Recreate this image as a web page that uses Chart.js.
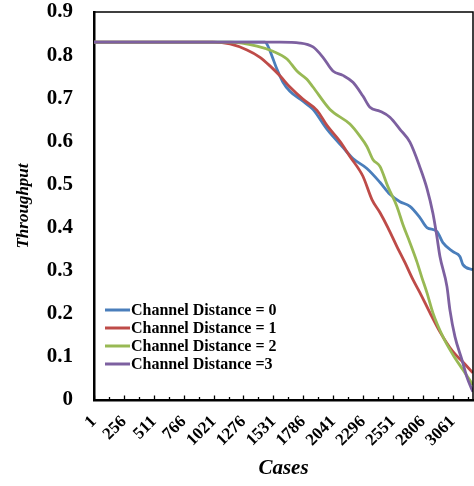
<!DOCTYPE html>
<html>
<head>
<meta charset="utf-8">
<script src="https://cdn.jsdelivr.net/npm/chart.js@4.4.0/dist/chart.umd.min.js"></script>
<style>
  body { margin: 0; background: #fff; }
  #wrap { width: 474px; height: 486px; }
</style>
</head>
<body>
<div id="wrap"><canvas id="chart" width="474" height="486"></canvas></div>
<script>
// data
const seriesNames = ['Channel Distance = 0', 'Channel Distance = 1', 'Channel Distance = 2', 'Channel Distance =3'];
const seriesColors = ['#4A7EBB', '#BE4B48', '#98B954', '#7D60A0'];

const casesD0 = [1, 1459, 1485, 1519, 1562, 1613, 1672, 1783, 1869, 1988, 2124, 2210, 2329, 2440, 2525, 2611, 2696, 2781, 2841, 2926, 2977, 3063, 3122, 3148, 3233];
const thrD0 = [0.830, 0.830, 0.821, 0.798, 0.767, 0.737, 0.716, 0.693, 0.674, 0.628, 0.586, 0.560, 0.537, 0.505, 0.477, 0.460, 0.449, 0.423, 0.400, 0.391, 0.365, 0.344, 0.333, 0.314, 0.302];

const casesD1 = [1, 1016, 1161, 1306, 1417, 1502, 1587, 1672, 1783, 1903, 1988, 2099, 2184, 2295, 2372, 2440, 2508, 2585, 2653, 2722, 2781, 2867, 2952, 3063, 3148, 3233];
const thrD1 = [0.830, 0.830, 0.826, 0.812, 0.795, 0.775, 0.752, 0.726, 0.698, 0.672, 0.637, 0.600, 0.565, 0.519, 0.465, 0.435, 0.400, 0.356, 0.319, 0.279, 0.249, 0.202, 0.158, 0.112, 0.088, 0.063];

const casesD2 = [1, 1161, 1391, 1527, 1647, 1732, 1817, 1869, 2014, 2184, 2269, 2329, 2380, 2440, 2508, 2585, 2636, 2696, 2755, 2798, 2841, 2892, 2977, 3063, 3148, 3233];
const thrD2 = [0.830, 0.830, 0.821, 0.809, 0.791, 0.763, 0.744, 0.726, 0.674, 0.640, 0.612, 0.588, 0.558, 0.542, 0.495, 0.449, 0.407, 0.365, 0.321, 0.284, 0.249, 0.202, 0.147, 0.105, 0.070, 0.035];

const casesD3 = [1, 1587, 1758, 1869, 1954, 2039, 2124, 2210, 2295, 2355, 2440, 2525, 2611, 2696, 2781, 2841, 2892, 2926, 2952, 3012, 3037, 3080, 3140, 3182, 3233];
const thrD3 = [0.830, 0.830, 0.828, 0.819, 0.795, 0.763, 0.753, 0.737, 0.705, 0.679, 0.670, 0.656, 0.628, 0.598, 0.540, 0.491, 0.433, 0.379, 0.333, 0.263, 0.209, 0.147, 0.093, 0.053, 0.019];

const xTickLabels = [1, 256, 511, 766, 1021, 1276, 1531, 1786, 2041, 2296, 2551, 2806, 3061];
const yTickLabels = ['0', '0.1', '0.2', '0.3', '0.4', '0.5', '0.6', '0.7', '0.8', '0.9'];
const xMax = 3234;

const allCases = [casesD0, casesD1, casesD2, casesD3];
const allThr = [thrD0, thrD1, thrD2, thrD3];

const FONT = "'Liberation Serif', 'Times New Roman', serif";

// frame, inward x tick marks and the in-plot legend
const decorations = {
    id: 'decorations',
    afterDraw(chart) {
        const ctx = chart.ctx;
        const area = chart.chartArea;
        const xs = chart.scales.x;
        ctx.save();

        // top + right frame
        ctx.strokeStyle = '#000';
        ctx.lineWidth = 1.5;
        ctx.beginPath();
        ctx.moveTo(area.left, area.top);
        ctx.lineTo(area.right, area.top);
        ctx.lineTo(area.right, area.bottom);
        ctx.stroke();

        // tick marks pointing into the plot
        ctx.lineWidth = 1.3;
        xs.ticks.forEach(t => {
            const px = Math.round(xs.getPixelForValue(t.value)) + 0.5;
            const len = xTickLabels.includes(t.value) ? 4.5 : 3;
            ctx.beginPath();
            ctx.moveTo(px, area.bottom);
            ctx.lineTo(px, area.bottom - len);
            ctx.stroke();
        });

        // legend
        ctx.font = 'bold 16px ' + FONT;
        ctx.textBaseline = 'middle';
        ctx.textAlign = 'left';
        chart.data.datasets.forEach((ds, i) => {
            const y = area.top + 298 + i * 18;
            const x0 = area.left + 11;
            ctx.strokeStyle = ds.borderColor;
            ctx.lineWidth = 3;
            ctx.beginPath();
            ctx.moveTo(x0, y);
            ctx.lineTo(x0 + 25, y);
            ctx.stroke();
            ctx.fillStyle = '#000';
            ctx.fillText(ds.label, x0 + 26, y + 1);
        });
        ctx.restore();
    }
};

const datasets = seriesNames.map((name, i) => ({
    label: name,
    data: allCases[i].map((c, j) => ({ x: c, y: allThr[i][j] })),
    borderColor: seriesColors[i],
    borderWidth: 2.8,
    pointRadius: 0,
    cubicInterpolationMode: 'monotone',
    fill: false,
    order: seriesNames.length - i
}));

new Chart(document.getElementById('chart'), {
    type: 'line',
    data: { datasets },
    plugins: [decorations],
    options: {
        responsive: false,
        animation: false,
        layout: { padding: { top: 12, right: 1, left: 0, bottom: 0 } },
        plugins: {
            legend: { display: false },
            tooltip: { enabled: false }
        },
        scales: {
            x: {
                type: 'linear',
                min: 1,
                max: xMax,
                afterBuildTicks: scale => {
                    const ticks = [];
                    xTickLabels.forEach(v => {
                        ticks.push({ value: v });
                        if (v + 127.5 < xMax) ticks.push({ value: v + 127.5 });
                    });
                    scale.ticks = ticks;
                },
                afterFit: scale => {
                    scale.height = 86;
                    scale.paddingLeft = 0;
                    scale.paddingRight = 0;
                },
                grid: { display: false, drawTicks: false },
                border: { display: true, color: '#000', width: 2.5 },
                ticks: {
                    autoSkip: false,
                    minRotation: 45,
                    maxRotation: 45,
                    padding: 12,
                    color: '#000',
                    font: { family: FONT, size: 17, weight: 'bold' },
                    callback: v => xTickLabels.includes(v) ? String(v) : ''
                },
                title: {
                    display: true,
                    text: 'Cases',
                    color: '#000',
                    font: { family: FONT, size: 21, weight: 'bold', style: 'italic' },
                    padding: { top: 0, bottom: 5 }
                }
            },
            y: {
                min: 0,
                max: 0.9,
                ticks: {
                    stepSize: 0.1,
                    padding: 21,
                    color: '#000',
                    font: { family: FONT, size: 21, weight: 'bold' },
                    callback: (v, i) => yTickLabels[i]
                },
                afterFit: scale => {
                    scale.width = 94;
                    scale.paddingTop = 0;
                    scale.paddingBottom = 0;
                },
                grid: { display: false, drawTicks: false },
                border: { display: true, color: '#000', width: 2.5 },
                title: {
                    display: true,
                    text: 'Throughput',
                    color: '#000',
                    font: { family: FONT, size: 17, weight: 'bold', style: 'italic' },
                    padding: { top: 13, bottom: 0 }
                }
            }
        }
    }
});
</script>
</body>
</html>
